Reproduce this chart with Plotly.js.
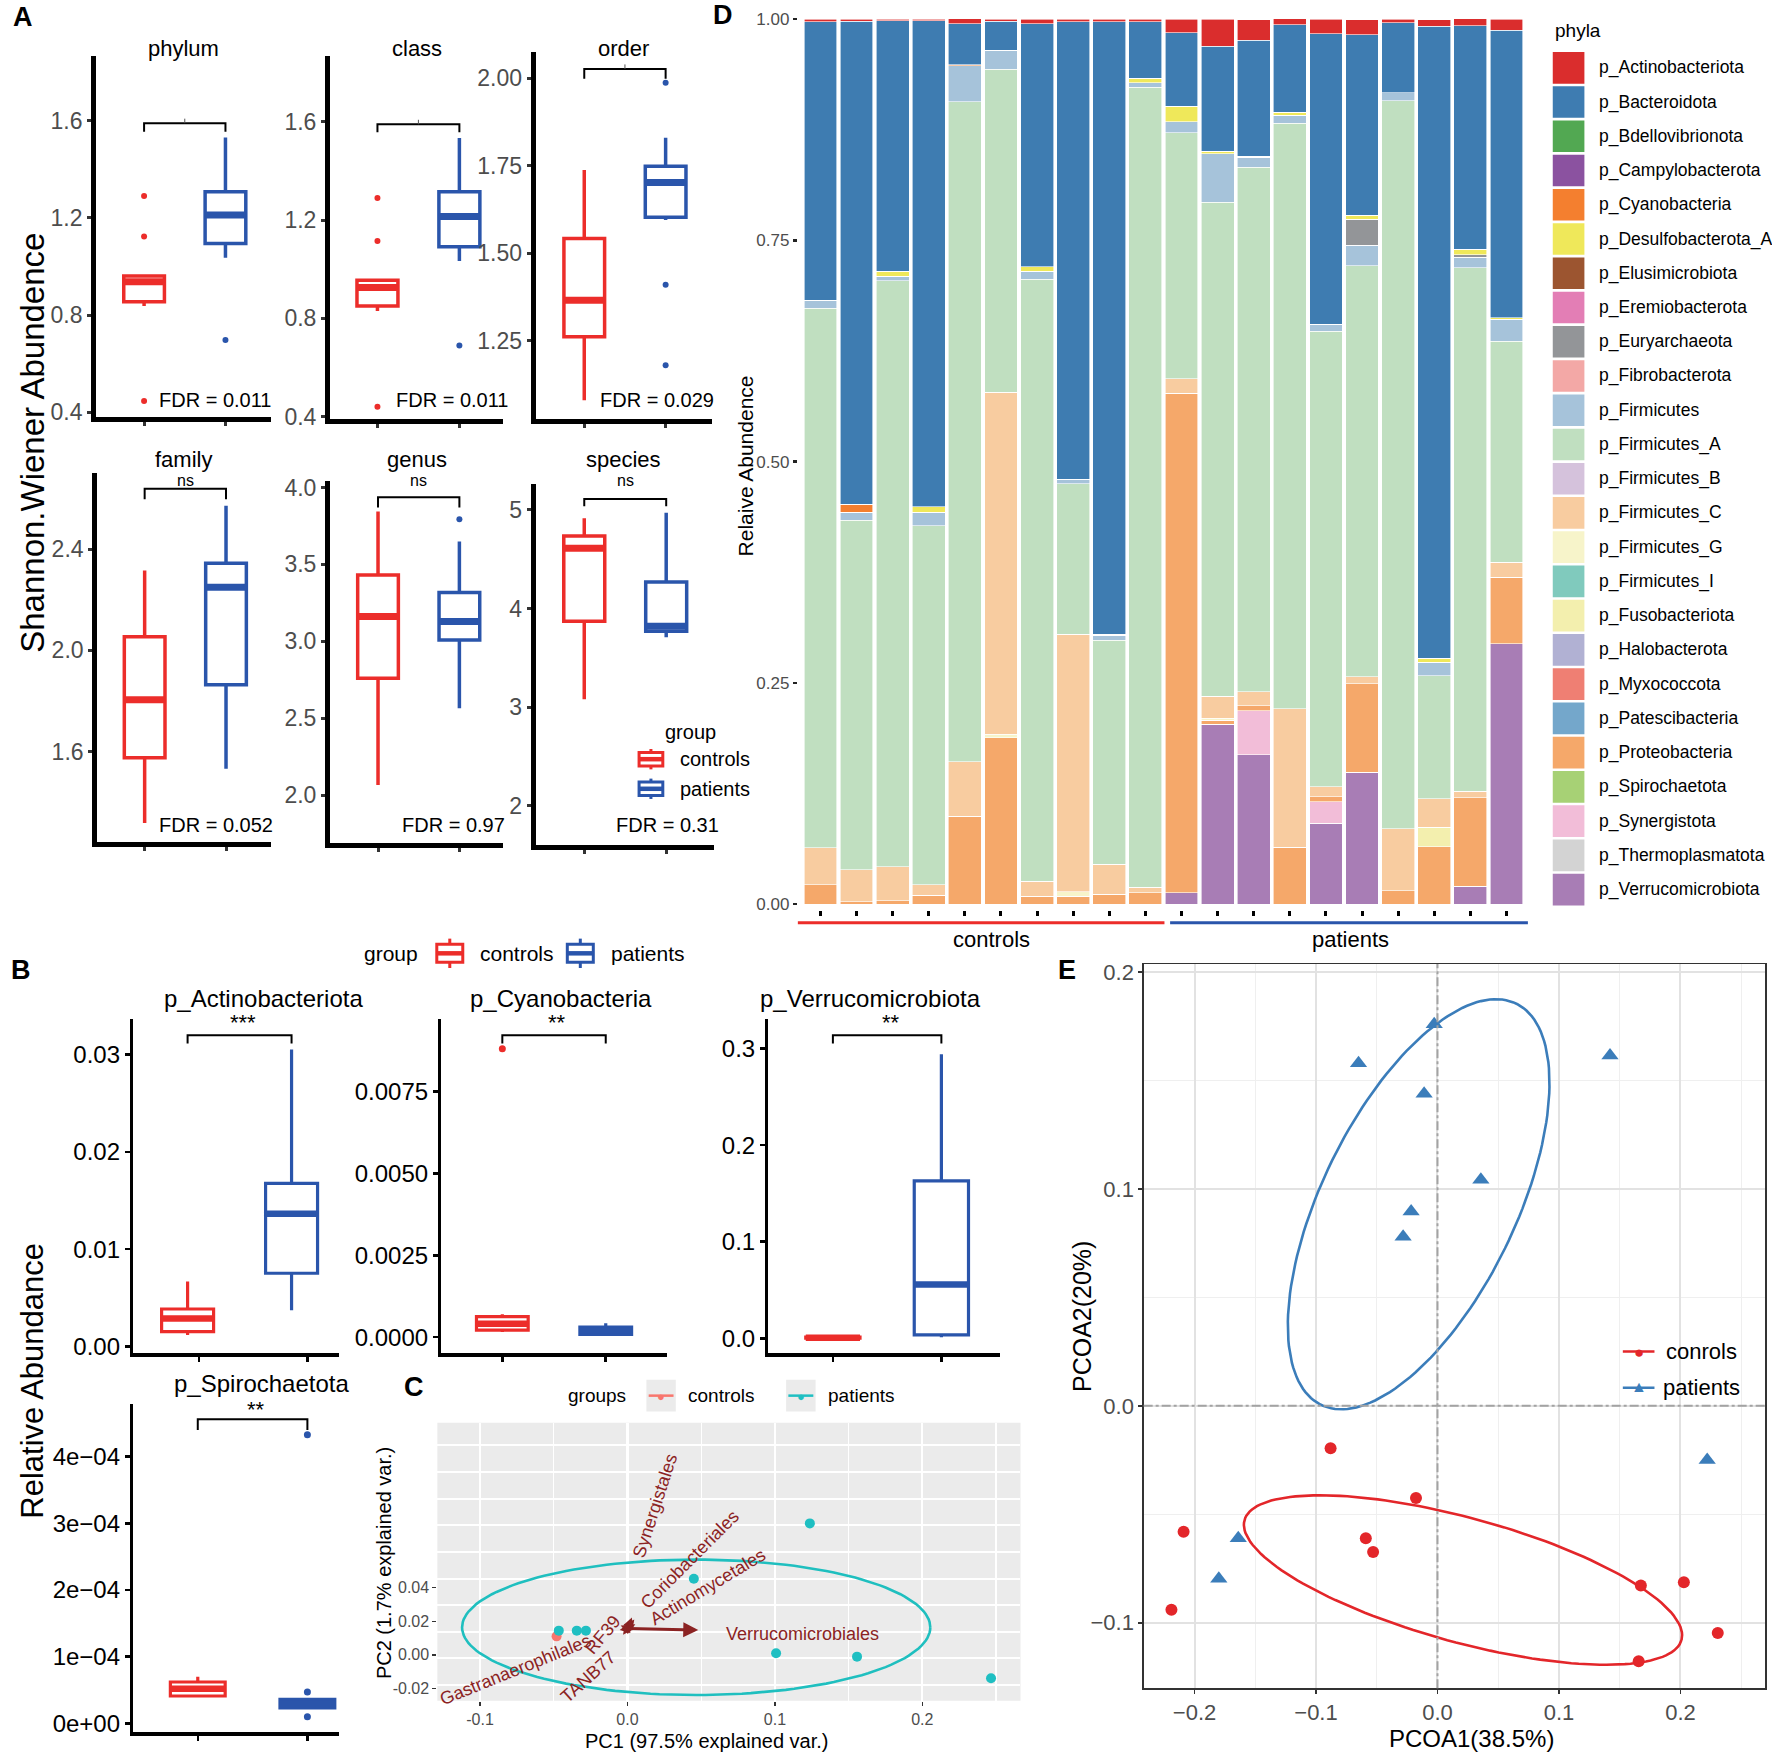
<!DOCTYPE html>
<html>
<head>
<meta charset="utf-8">
<script src="https://cdn.plot.ly/plotly-3.0.1.min.js"></script>
<style>
html,body{margin:0;padding:0;background:#ffffff;}
#fig{width:1772px;height:1755px;}
</style>
</head>
<body>
<div id="fig"></div>
<script>
/* ===================== DATA ===================== */
const groups = ['controls', 'patients'];

/* Panel A - Shannon.Wiener index; box stats = [lower whisker, Q1, median, Q3, upper whisker] */
const alphaLevels = ['phylum', 'class', 'order', 'family', 'genus', 'species'];
const alphaFDR = ['FDR = 0.011', 'FDR = 0.011', 'FDR = 0.029', 'FDR = 0.052', 'FDR = 0.97', 'FDR = 0.31'];
const alphaSig = ['', '', '', 'ns', 'ns', 'ns'];
const alphaControls = [
  [0.837, 0.855, 0.937, 0.961, 0.961],
  [0.830, 0.850, 0.925, 0.955, 0.955],
  [1.080, 1.261, 1.366, 1.542, 1.738],
  [1.317, 1.575, 1.805, 2.054, 2.316],
  [2.066, 2.760, 3.161, 3.432, 3.844],
  [3.080, 3.870, 4.610, 4.736, 4.916]
];
const alphaPatients = [
  [1.036, 1.095, 1.212, 1.308, 1.531],
  [1.033, 1.091, 1.214, 1.315, 1.534],
  [1.595, 1.603, 1.702, 1.749, 1.830],
  [1.532, 1.864, 2.250, 2.344, 2.572],
  [2.565, 3.009, 3.129, 3.317, 3.649],
  [3.710, 3.770, 3.820, 4.270, 4.970]
];
const alphaControlsOut = [[1.29, 1.123, 0.446], [1.29, 1.115, 0.44], [], [], [], []];
const alphaPatientsOut = [[0.697], [0.69], [1.987, 1.41, 1.18], [], [3.794], []];

/* Panel B - relative abundance of differential phyla */
const markerPhyla = ['p_Actinobacteriota', 'p_Cyanobacteria', 'p_Verrucomicrobiota', 'p_Spirochaetota'];
const markerStars = ['***', '**', '**', '**'];
const relControls = [
  [0.00119, 0.00153, 0.00288, 0.00386, 0.00668],
  [0.000154, 0.000216, 0.00041, 0.000628, 0.0007],
  [0.0, 0.0002, 0.0006, 0.0012, 0.002],
  [0.000039, 0.000041, 0.000052, 0.000062, 0.00007]
];
const relPatients = [
  [0.00373, 0.00753, 0.01363, 0.01675, 0.0305],
  [0.00003, 0.000082, 0.0002, 0.000309, 0.00042],
  [0.001, 0.0035, 0.0556, 0.163, 0.294],
  [0.000023, 0.000023, 0.0000295, 0.000036, 0.000036]
];
const relControlsOut = [[], [0.00881], [], []];
const relPatientsOut = [[], [], [], [0.000433, 0.000047, 0.00001]];
const relTickVals = [[0, 0.01, 0.02, 0.03], [0, 0.0025, 0.005, 0.0075], [0, 0.1, 0.2, 0.3], [0, 0.0001, 0.0002, 0.0003, 0.0004]];
const relTickText = [['0.00', '0.01', '0.02', '0.03'], ['0.0000', '0.0025', '0.0050', '0.0075'], ['0.0', '0.1', '0.2', '0.3'], ['0e+00', '1e\u221204', '2e\u221204', '3e\u221204', '4e\u221204']];

/* Panel C - PCA biplot */
const pcaControlsPC1 = [-0.0481];
const pcaControlsPC2 = [0.011];
const pcaPatientsPC1 = [0.1237, 0.045, -0.0466, -0.0344, -0.0282, 0.1008, 0.1557, 0.2466];
const pcaPatientsPC2 = [0.0784, 0.0454, 0.0144, 0.0144, 0.0144, 0.0009, -0.0011, -0.014];
const pcaOrigin = [0, 0.0157];
const loadingNames = ['Verrucomicrobiales', 'Actinomycetales', 'Coriobacteriales', 'Synergistales', 'Gastranaerophilales', 'RF39', 'TANB77'];
const loadingTipX = [0.048, 0.0053, 0.0046, 0.003, -0.0053, -0.0046, -0.003];
const loadingTipY = [0.0148, 0.0182, 0.021, 0.0222, 0.0148, 0.0175, 0.012];
const loadingLabelX = [0.119, 0.0542, 0.0427, 0.019, -0.0763, -0.0168, -0.0267];
const loadingLabelY = [0.0123, 0.0407, 0.0569, 0.0892, -0.0092, 0.0117, -0.0133];
const loadingLabelAngle = [0, -31, -45, -72, -22, -50, -42];
const pcaEllipseCenter = [0.0466, 0.0164];
const pcaEllipseAxisU = [0.1588, 0];
const pcaEllipseAxisV = [0, 0.0404];

/* Panel D - phylum composition per sample */
const samples = ['C1','C2','C3','C4','C5','C6','C7','C8','C9','C10','P1','P2','P3','P4','P5','P6','P7','P8','P9','P10'];
const phylaNames = ['p_Actinobacteriota','p_Bacteroidota','p_Bdellovibrionota','p_Campylobacterota','p_Cyanobacteria','p_Desulfobacterota_A','p_Elusimicrobiota','p_Eremiobacterota','p_Euryarchaeota','p_Fibrobacterota','p_Firmicutes','p_Firmicutes_A','p_Firmicutes_B','p_Firmicutes_C','p_Firmicutes_G','p_Firmicutes_I','p_Fusobacteriota','p_Halobacterota','p_Myxococcota','p_Patescibacteria','p_Proteobacteria','p_Spirochaetota','p_Synergistota','p_Thermoplasmatota','p_Verrucomicrobiota'];
const p_Actinobacteriota   = [0.0025,0.002,0.002,0.002,0.0056,0.002,0.005,0.003,0.003,0.003,0.0153,0.0307,0.023,0.007,0.0166,0.0166,0.004,0.0077,0.0077,0.012];
const p_Bacteroidota       = [0.315,0.546,0.283,0.549,0.0465,0.033,0.275,0.517,0.692,0.064,0.083,0.119,0.131,0.099,0.328,0.2043,0.079,0.714,0.253,0.325];
const p_Bdellovibrionota   = [0,0,0,0,0,0,0,0,0,0,0,0,0,0,0,0,0,0,0,0];
const p_Campylobacterota   = [0,0,0,0,0,0,0,0,0,0,0,0,0,0,0,0,0,0,0,0];
const p_Cyanobacteria      = [0,0.009,0,0,0.001,0,0,0,0.001,0,0,0,0.001,0,0,0,0,0,0,0];
const p_Desulfobacterota_A = [0,0,0.0055,0.006,0,0,0.005,0,0,0.005,0.0179,0.0025,0,0.003,0,0.0045,0,0.0046,0.006,0.002];
const p_Elusimicrobiota    = [0,0,0,0,0,0,0,0,0,0,0,0,0,0,0,0,0,0,0,0];
const p_Eremiobacterota    = [0,0,0,0,0,0,0,0,0,0,0,0,0,0,0,0,0,0,0,0];
const p_Euryarchaeota      = [0,0,0,0,0,0,0,0,0,0,0,0,0,0,0,0.0294,0,0,0.003,0];
const p_Fibrobacterota     = [0,0,0,0,0,0,0,0,0,0,0,0,0,0,0,0,0,0,0,0];
const p_Firmicutes         = [0.0092,0.0093,0.005,0.0153,0.0404,0.0215,0.009,0.005,0.006,0.005,0.0121,0.055,0.0115,0.009,0.0083,0.023,0.009,0.0153,0.0114,0.0246];
const p_Firmicutes_A       = [0.6094,0.395,0.6625,0.406,0.746,0.365,0.68,0.17,0.253,0.904,0.278,0.558,0.593,0.6616,0.5146,0.4645,0.823,0.139,0.5917,0.25];
const p_Firmicutes_B       = [0,0,0,0,0,0,0,0,0,0,0,0,0,0,0,0,0,0,0,0];
const p_Firmicutes_C       = [0.042,0.036,0.038,0.0115,0.062,0.3866,0.017,0.291,0.034,0.006,0.0166,0.025,0.0153,0.157,0.011,0.008,0.07,0.032,0.0077,0.0166];
const p_Firmicutes_G       = [0,0,0,0,0,0.004,0,0.005,0,0,0,0.002,0,0,0,0,0,0,0,0];
const p_Firmicutes_I       = [0,0,0,0,0,0,0,0,0,0,0,0,0,0,0,0,0,0,0,0];
const p_Fusobacteriota     = [0,0,0,0,0,0,0,0,0,0,0,0,0,0,0,0,0,0.022,0,0];
const p_Halobacterota      = [0,0,0,0,0,0,0,0,0,0,0,0,0,0,0,0,0,0,0,0];
const p_Myxococcota        = [0,0,0,0,0,0,0,0,0,0,0,0,0,0,0,0,0,0,0,0];
const p_Patescibacteria    = [0,0,0,0,0,0,0,0,0,0,0,0,0,0,0,0,0,0,0,0];
const p_Proteobacteria     = [0.0217,0.0026,0.004,0.0102,0.099,0.1877,0.009,0.009,0.011,0.013,0.5645,0.005,0.006,0.064,0.006,0.1,0.015,0.065,0.0996,0.0755];
const p_Spirochaetota      = [0,0,0,0,0,0,0,0,0,0,0,0,0,0,0,0,0,0,0,0];
const p_Synergistota       = [0,0,0,0,0,0,0,0,0,0,0,0,0.0498,0,0.024,0,0,0,0,0];
const p_Thermoplasmatota   = [0,0,0,0,0,0,0,0,0,0,0,0,0,0,0,0,0,0,0,0];
const p_Verrucomicrobiota  = [0,0,0,0,0,0,0,0,0,0,0.0128,0.203,0.1686,0,0.0915,0.149,0,0,0.0204,0.294];

/* Panel E - PCoA */
const pcoaControlsX = [-0.088, -0.209, -0.0177, -0.059, -0.053, -0.219, 0.1674, 0.2028, 0.2307, 0.1656];
const pcoaControlsY = [-0.0196, -0.058, -0.0425, -0.061, -0.0674, -0.094, -0.0828, -0.0813, -0.1047, -0.1177];
const pcoaPatientsX = [-0.0027, -0.065, -0.011, 0.0357, -0.0217, -0.0283, -0.164, 0.142, 0.222, -0.18];
const pcoaPatientsY = [0.1758, 0.1579, 0.1438, 0.1042, 0.0895, 0.0779, -0.061, 0.1615, -0.025, -0.0797];
const pcoaEllipsePatCenter = [-0.0155, 0.0929];
const pcoaEllipsePatU = [0.0809, 0.0923];
const pcoaEllipsePatV = [0.0711, -0.0203];
const pcoaEllipseCtrlCenter = [0.021, -0.0803];
const pcoaEllipseCtrlU = [0.1799, -0.02754];
const pcoaEllipseCtrlV = [-0.01297, -0.0277];

/* ===================== STYLE / LAYOUT ===================== */
const phylaColors = ['#DA2D2D','#3E7CB1','#52A852','#8B52A0','#F47F2F','#EFE85A','#9C5530','#E37EB5','#939598','#F3A8A6','#A6C3DA','#C0DFC0','#D5C2DC','#F8CCA0','#F7F4CA','#80CABD','#F3EFAE','#B1B1D3','#EF7F73','#74A7CB','#F5A86A','#A7D175','#F2BDD8','#D3D3D3','#A87DB5'];
const phylaData = [p_Actinobacteriota,p_Bacteroidota,p_Bdellovibrionota,p_Campylobacterota,p_Cyanobacteria,p_Desulfobacterota_A,p_Elusimicrobiota,p_Eremiobacterota,p_Euryarchaeota,p_Fibrobacterota,p_Firmicutes,p_Firmicutes_A,p_Firmicutes_B,p_Firmicutes_C,p_Firmicutes_G,p_Firmicutes_I,p_Fusobacteriota,p_Halobacterota,p_Myxococcota,p_Patescibacteria,p_Proteobacteria,p_Spirochaetota,p_Synergistota,p_Thermoplasmatota,p_Verrucomicrobiota];

const W = 1568, H = 1553;               // reference frame, scaled to 1772 x 1755
const PX = x => x / W;
const PY = y => 1 - y / H;
const lin = (p, c) => c[1] + (p - c[0]) * (c[3] - c[1]) / (c[2] - c[0]);
const FONT = 'Liberation Sans, Arial, Helvetica, sans-serif';
const RED = '#EC2D2A', BLUE = '#2A55AB';
const sfx = n => (n === 1 ? '' : String(n));

const traces = [];
const layout = {
  width: 1772, height: 1755,
  margin: {l: 0, r: 0, t: 0, b: 0},
  paper_bgcolor: 'white', plot_bgcolor: 'rgba(0,0,0,0)',
  showlegend: false, barmode: 'stack', bargap: 0.09,
  font: {family: FONT, color: 'black'},
  shapes: [], annotations: []
};
const shapes = layout.shapes, ann = layout.annotations;

function text(x, y, s, size, opts) {
  const o = Object.assign({xanchor: 'center', yanchor: 'middle', color: 'black', bold: false, angle: 0}, opts || {});
  ann.push({xref: 'paper', yref: 'paper', x: PX(x), y: PY(y), text: o.bold ? '<b>' + s + '</b>' : s,
    showarrow: false, xanchor: o.xanchor, yanchor: o.yanchor, textangle: o.angle,
    font: {family: FONT, size: size, color: o.color}});
}
function pline(x0, y0, x1, y1, color, width) {
  shapes.push({type: 'line', xref: 'paper', yref: 'paper', x0: PX(x0), y0: PY(y0), x1: PX(x1), y1: PY(y1), line: {color: color, width: width}});
}
function boxGlyph(cx, cy, color, w, h, wh, lw) {
  shapes.push({type: 'rect', xref: 'paper', yref: 'paper', x0: PX(cx - w / 2), x1: PX(cx + w / 2), y0: PY(cy + h / 2), y1: PY(cy - h / 2), line: {color: color, width: lw}, fillcolor: 'white'});
  pline(cx - w / 2, cy, cx + w / 2, cy, color, lw * 1.5);
  pline(cx, cy - h / 2, cx, cy - h / 2 - wh, color, lw);
  pline(cx, cy + h / 2, cx, cy + h / 2 + wh, color, lw);
}
function addBox(n, pos, st, color, w, lw, medW) {
  const xa = 'x' + sfx(n), ya = 'y' + sfx(n);
  traces.push({type: 'box', orientation: 'v', x: [pos], lowerfence: [st[0]], q1: [st[1]], median: [st[2]], q3: [st[3]], upperfence: [st[4]],
    width: w, whiskerwidth: 0, fillcolor: 'white', line: {color: color, width: lw}, boxpoints: false, xaxis: xa, yaxis: ya, hoverinfo: 'skip'});
  traces.push({type: 'scatter', mode: 'lines', x: [pos - w / 2, pos + w / 2], y: [st[2], st[2]], line: {color: color, width: medW}, xaxis: xa, yaxis: ya, hoverinfo: 'skip'});
}
function addOut(n, pos, vals, color, size) {
  if (!vals.length) return;
  traces.push({type: 'scatter', mode: 'markers', x: vals.map(() => pos), y: vals, marker: {color: color, size: size}, xaxis: 'x' + sfx(n), yaxis: 'y' + sfx(n), hoverinfo: 'skip'});
}
function bracket(n, x0, x1, yb, yd, lw) {
  shapes.push({type: 'path', xref: 'x' + sfx(n), yref: 'y' + sfx(n), path: 'M ' + x0 + ',' + yd + ' L ' + x0 + ',' + yb + ' L ' + x1 + ',' + yb + ' L ' + x1 + ',' + yd, line: {color: 'black', width: lw}});
}
function ellipse(c, u, v) {
  const xs = [], ys = [];
  for (let k = 0; k <= 160; k++) {
    const t = 2 * Math.PI * k / 160;
    xs.push(c[0] + u[0] * Math.cos(t) + v[0] * Math.sin(t));
    ys.push(c[1] + u[1] * Math.cos(t) + v[1] * Math.sin(t));
  }
  return {x: xs, y: ys};
}

/* ---------- Panel A ---------- */
const aFrames = [
  {l: 85,  r: 240, t: 49.6,  b: 369,   c0: 127.5, c1: 199.5, cal: [106.8, 1.6, 278.8, 0.8], tv: [0.4, 0.8, 1.2, 1.6], tt: ['0.4', '0.8', '1.2', '1.6'], tx: 162, ty: 42.8, brY: 109, brD: 116.5, fx: 190, fy: 354},
  {l: 292, r: 445, t: 49.6,  b: 371,   c0: 334,   c1: 406.5, cal: [107.7, 1.6, 281.7, 0.8], tv: [0.4, 0.8, 1.2, 1.6], tt: ['0.4', '0.8', '1.2', '1.6'], tx: 369, ty: 42.8, brY: 110, brD: 117, fx: 400, fy: 354},
  {l: 474, r: 630, t: 45.7,  b: 371,   c0: 517,   c1: 589,   cal: [69.3, 2.0, 301.5, 1.25], tv: [1.25, 1.5, 1.75, 2.0], tt: ['1.25', '1.50', '1.75', '2.00'], tx: 552, ty: 42.8, brY: 61, brD: 69.7, fx: 581, fy: 354},
  {l: 86,  r: 240, t: 418.7, b: 745,   c0: 128,   c1: 200,   cal: [486, 2.4, 665, 1.6], tv: [1.6, 2.0, 2.4], tt: ['1.6', '2.0', '2.4'], tx: 162, ty: 407, brY: 432.6, brD: 441.8, fx: 191, fy: 730},
  {l: 292, r: 445, t: 426,   b: 745.7, c0: 334.5, c1: 406.5, cal: [431.4, 4.0, 635.6, 2.5], tv: [2.0, 2.5, 3.0, 3.5, 4.0], tt: ['2.0', '2.5', '3.0', '3.5', '4.0'], tx: 369, ty: 407, brY: 440, brD: 449, fx: 401, fy: 730},
  {l: 474, r: 632, t: 428,   b: 748,   c0: 517,   c1: 589.5, cal: [451.2, 5, 625.8, 3], tv: [2, 3, 4, 5], tt: ['2', '3', '4', '5'], tx: 552, ty: 407, brY: 441.5, brD: 448, fx: 591, fy: 730}
];
aFrames.forEach((f, i) => {
  const n = i + 1;
  const sc = 1 / (f.c1 - f.c0);
  layout['xaxis' + sfx(n)] = {domain: [PX(f.l), PX(f.r)], range: [(f.l - f.c0) * sc, (f.r - f.c0) * sc], anchor: 'y' + sfx(n),
    showline: true, linecolor: 'black', linewidth: 5, ticks: 'outside', tickvals: [0, 1], ticklen: 4, tickwidth: 3, tickcolor: '#333',
    showticklabels: false, showgrid: false, zeroline: false};
  layout['yaxis' + sfx(n)] = {domain: [PY(f.b), PY(f.t)], range: [lin(f.b, f.cal), lin(f.t, f.cal)], anchor: 'x' + sfx(n),
    showline: true, linecolor: 'black', linewidth: 5, ticks: 'outside', tickvals: f.tv, ticktext: f.tt, ticklen: 4, tickwidth: 3, tickcolor: '#333',
    tickfont: {family: FONT, size: 23, color: '#4d4d4d'}, showgrid: false, zeroline: false};
  addBox(n, 0, alphaControls[i], RED, 0.5, 3.5, 7);
  addBox(n, 1, alphaPatients[i], BLUE, 0.5, 3.5, 7);
  addOut(n, 0, alphaControlsOut[i], RED, 6);
  addOut(n, 1, alphaPatientsOut[i], BLUE, 6);
  bracket(n, 0, 1, lin(f.brY, f.cal), lin(f.brD, f.cal), 2);
  if (!alphaSig[i]) {
    shapes.push({type: 'line', xref: 'x' + sfx(n), yref: 'y' + sfx(n), x0: 0.5, x1: 0.5, y0: lin(f.brY, f.cal), y1: lin(f.brY - 4, f.cal), line: {color: '#555', width: 1}});
  } else {
    text((f.c0 + f.c1) / 2, 425.5, alphaSig[i], 16);
  }
  text(f.tx, f.ty, alphaLevels[i], 22);
  text(f.fx, f.fy, alphaFDR[i], 20);
});
text(29, 392, 'Shannon.Wiener Abundence', 33, {angle: -90});
text(610.6, 647.8, 'group', 20);
boxGlyph(576, 671.8, RED, 21, 12, 3, 3);
boxGlyph(576, 698, BLUE, 21, 12, 3, 3);
text(600, 671.8, 'controls', 20, {xanchor: 'left'});
text(600, 698, 'patients', 20, {xanchor: 'left'});

/* ---------- Panel B ---------- */
const bFrames = [
  {l: 118,   r: 300, t: 902,  b: 1197.6, c0: 166,   c1: 258, cal: [933, 0.03, 1019.2, 0.02], xt: [0.109, 1.152], tx: 233,   ty: 884,  sy: 905,  brY: 916,  brD: 923.5},
  {l: 390.6, r: 590, t: 902,  b: 1197.6, c0: 444.5, c1: 536, cal: [966, 0.0075, 1038.4, 0.005], xt: [0, 1], tx: 496.4, ty: 884,  sy: 905,  brY: 916,  brD: 923.5},
  {l: 680,   r: 885, t: 902,  b: 1197.6, c0: 737,   c1: 833, cal: [927.8, 0.3, 1184.3, 0], xt: [0, 1], tx: 770,   ty: 884,  sy: 905,  brY: 916,  brD: 923.5},
  {l: 118,   r: 300, t: 1242, b: 1533,   c0: 175,   c1: 272, cal: [1289, 0.0004, 1348, 0.0003], xt: [0, 1], tx: 231.6, ty: 1224, sy: 1247, brY: 1256, brD: 1265.5}
];
bFrames.forEach((f, i) => {
  const n = i + 7;
  const sc = 1 / (f.c1 - f.c0);
  layout['xaxis' + sfx(n)] = {domain: [PX(f.l), PX(f.r)], range: [(f.l - f.c0) * sc, (f.r - f.c0) * sc], anchor: 'y' + sfx(n),
    showline: true, linecolor: 'black', linewidth: 3.5, ticks: 'outside', tickvals: f.xt, ticklen: 5, tickwidth: 2.5, tickcolor: 'black',
    showticklabels: false, showgrid: false, zeroline: false};
  layout['yaxis' + sfx(n)] = {domain: [PY(f.b), PY(f.t)], range: [lin(f.b, f.cal), lin(f.t, f.cal)], anchor: 'x' + sfx(n),
    showline: true, linecolor: 'black', linewidth: 3.5, ticks: 'outside', tickvals: relTickVals[i], ticktext: relTickText[i], ticklen: 5, tickwidth: 2.5, tickcolor: 'black',
    tickfont: {family: FONT, size: 24, color: 'black'}, showgrid: false, zeroline: false};
  addBox(n, 0, relControls[i], RED, 0.5, 3.2, 6.5);
  addBox(n, 1, relPatients[i], BLUE, 0.5, 3.2, 6.5);
  addOut(n, 0, relControlsOut[i], RED, 7);
  addOut(n, 1, relPatientsOut[i], BLUE, 7);
  bracket(n, 0, 1, lin(f.brY, f.cal), lin(f.brD, f.cal), 2);
  text(f.tx, f.ty, markerPhyla[i], 24);
  text((f.c0 + f.c1) / 2 + 3, f.sy, markerStars[i], 22);
});
text(29, 1222, 'Relative Abundance', 31, {angle: -90});
text(346, 843.6, 'group', 21);
boxGlyph(398, 843.6, RED, 23, 16, 5, 3);
text(423, 843.6, 'controls', 21, {xanchor: 'left'});
boxGlyph(513.5, 843.6, BLUE, 23, 16, 5, 3);
text(539, 843.6, 'patients', 21, {xanchor: 'left'});

/* ---------- Panel C ---------- */
const cF = {l: 387, r: 903, t: 1259, b: 1505, xcal: [424.8, -0.1, 685.7, 0.1], ycal: [1405, 0.04, 1494, -0.02]};
layout.xaxis11 = {domain: [PX(cF.l), PX(cF.r)], range: [lin(cF.l, cF.xcal), lin(cF.r, cF.xcal)], anchor: 'y11',
  showline: false, zeroline: false, ticks: 'outside', ticklen: 4, tickwidth: 1.5, tickcolor: '#333',
  tickvals: [-0.1, 0, 0.1, 0.2], ticktext: ['-0.1', '0.0', '0.1', '0.2'], tickfont: {family: FONT, size: 16, color: '#4d4d4d'},
  showgrid: true, gridcolor: 'white', gridwidth: 2.2,
  minor: {tickmode: 'linear', tick0: 0, dtick: 0.05, showgrid: true, gridcolor: 'white', gridwidth: 1.3}};
layout.yaxis11 = {domain: [PY(cF.b), PY(cF.t)], range: [lin(cF.b, cF.ycal), lin(cF.t, cF.ycal)], anchor: 'x11',
  showline: false, zeroline: false, ticks: 'outside', ticklen: 4, tickwidth: 1.5, tickcolor: '#333',
  tickvals: [-0.02, 0, 0.02, 0.04], ticktext: ['-0.02', '0.00', '0.02', '0.04'], tickfont: {family: FONT, size: 16, color: '#4d4d4d'},
  showgrid: false,
  minor: {tickmode: 'linear', tick0: 0.0137, dtick: 0.0159, showgrid: true, gridcolor: 'white', gridwidth: 2}};
shapes.push({type: 'rect', xref: 'x11 domain', yref: 'y11 domain', x0: 0, x1: 1, y0: 0, y1: 1, fillcolor: '#EBEBEB', line: {width: 0}, layer: 'below'});
const cEll = ellipse(pcaEllipseCenter, pcaEllipseAxisU, pcaEllipseAxisV);
traces.push({type: 'scatter', mode: 'lines', x: cEll.x, y: cEll.y, line: {color: '#1FBFBF', width: 2.6}, xaxis: 'x11', yaxis: 'y11', hoverinfo: 'skip'});
traces.push({type: 'scatter', mode: 'markers', x: pcaControlsPC1, y: pcaControlsPC2, marker: {color: '#F8766D', size: 10}, xaxis: 'x11', yaxis: 'y11', hoverinfo: 'skip'});
traces.push({type: 'scatter', mode: 'markers', x: pcaPatientsPC1, y: pcaPatientsPC2, marker: {color: '#1FBFC2', size: 10}, xaxis: 'x11', yaxis: 'y11', hoverinfo: 'skip'});
loadingNames.forEach((nm, i) => {
  ann.push({xref: 'x11', yref: 'y11', axref: 'x11', ayref: 'y11', x: loadingTipX[i], y: loadingTipY[i], ax: pcaOrigin[0], ay: pcaOrigin[1],
    showarrow: true, arrowhead: 2, arrowsize: 1, arrowwidth: i === 0 ? 3 : 2, arrowcolor: '#8B2323', text: ''});
  ann.push({xref: 'x11', yref: 'y11', x: loadingLabelX[i], y: loadingLabelY[i], text: nm, showarrow: false, textangle: loadingLabelAngle[i],
    xanchor: 'center', yanchor: 'middle', font: {family: FONT, size: 18, color: '#8B2323'}});
});
text(528.5, 1235, 'groups', 19);
shapes.push({type: 'rect', xref: 'paper', yref: 'paper', x0: PX(572), x1: PX(598), y0: PY(1249), y1: PY(1221), fillcolor: '#EBEBEB', line: {width: 0}});
shapes.push({type: 'rect', xref: 'paper', yref: 'paper', x0: PX(695.6), x1: PX(721.7), y0: PY(1249), y1: PY(1221), fillcolor: '#EBEBEB', line: {width: 0}});
pline(574, 1235, 596, 1235, '#F8766D', 2.5);
pline(697.6, 1235, 719.7, 1235, '#1FBFC2', 2.5);
text(585, 1235.5, '\u25CF', 13, {color: '#F8766D'});
text(708.6, 1235.5, '\u25CF', 13, {color: '#1FBFC2'});
text(607, 1235, 'controls', 19, {xanchor: 'left'});
text(730.5, 1235, 'patients', 19, {xanchor: 'left'});
text(625, 1541, 'PC1 (97.5% explained var.)', 20);
text(340, 1383, 'PC2 (1.7% explained var.)', 20, {angle: -90});

/* ---------- Panel D ---------- */
const dF = {l: 706, r: 1353, t: 14, b: 805, ycal: [17, 1, 800, 0], c0: 726, dx: 31.95};
layout.xaxis12 = {domain: [PX(dF.l), PX(dF.r)], type: 'category', categoryorder: 'array', categoryarray: samples,
  range: [(dF.l - dF.c0) / dF.dx, (dF.r - dF.c0) / dF.dx], anchor: 'y12', showline: false, zeroline: false, showgrid: false,
  ticks: 'outside', ticklen: 5, tickwidth: 3, tickcolor: 'black', showticklabels: false};
layout.yaxis12 = {domain: [PY(dF.b), PY(dF.t)], range: [lin(dF.b, dF.ycal), lin(dF.t, dF.ycal)], anchor: 'x12',
  showline: false, zeroline: false, showgrid: false, ticks: 'outside', ticklen: 4, tickwidth: 2.5, tickcolor: '#222',
  tickvals: [0, 0.25, 0.5, 0.75, 1], ticktext: ['0.00', '0.25', '0.50', '0.75', '1.00'], tickfont: {family: FONT, size: 17, color: '#4d4d4d'}};
for (let k = phylaNames.length - 1; k >= 0; k--) {
  traces.push({type: 'bar', name: phylaNames[k], x: samples, y: phylaData[k], marker: {color: phylaColors[k], line: {color: 'white', width: 0.6}},
    xaxis: 'x12', yaxis: 'y12', hoverinfo: 'skip'});
}
text(660, 412, 'Relaive Abundence', 21, {angle: -90});
pline(706, 816.5, 1030.4, 816.5, RED, 3);
pline(1035.4, 816.5, 1352, 816.5, BLUE, 3);
text(877.6, 831.7, 'controls', 22);
text(1195, 831.7, 'patients', 22);
text(1396, 27.4, 'phyla', 19);
phylaNames.forEach((nm, i) => {
  const cy = 60 + 30.3 * i;
  shapes.push({type: 'rect', xref: 'paper', yref: 'paper', x0: PX(1374), x1: PX(1402), y0: PY(cy + 14), y1: PY(cy - 14), fillcolor: phylaColors[i], line: {width: 0}});
  text(1413.3, cy, nm, 17.5, {xanchor: 'left'});
});

/* ---------- Panel E ---------- */
const eF = {l: 1012, r: 1562, t: 853, b: 1494, xcal: [1057, -0.2, 1487, 0.2], ycal: [860, 0.2, 1436, -0.1]};
layout.xaxis13 = {domain: [PX(eF.l), PX(eF.r)], range: [lin(eF.l, eF.xcal), lin(eF.r, eF.xcal)], anchor: 'y13',
  showline: true, mirror: true, linecolor: '#333', linewidth: 1.3, zeroline: false,
  ticks: 'outside', ticklen: 4, tickwidth: 1.5, tickcolor: '#333',
  tickvals: [-0.2, -0.1, 0, 0.1, 0.2], ticktext: ['\u22120.2', '\u22120.1', '0.0', '0.1', '0.2'], tickfont: {family: FONT, size: 22, color: '#4d4d4d'},
  showgrid: true, gridcolor: '#E2E2E2', gridwidth: 2,
  minor: {tickmode: 'linear', tick0: 0, dtick: 0.05, showgrid: true, gridcolor: '#EFEFEF', gridwidth: 1.1}};
layout.yaxis13 = {domain: [PY(eF.b), PY(eF.t)], range: [lin(eF.b, eF.ycal), lin(eF.t, eF.ycal)], anchor: 'x13',
  showline: true, mirror: true, linecolor: '#333', linewidth: 1.3, zeroline: false,
  ticks: 'outside', ticklen: 4, tickwidth: 1.5, tickcolor: '#333',
  tickvals: [-0.1, 0, 0.1, 0.2], ticktext: ['\u22120.1', '0.0', '0.1', '0.2'], tickfont: {family: FONT, size: 22, color: '#4d4d4d'},
  showgrid: true, gridcolor: '#E2E2E2', gridwidth: 2,
  minor: {tickmode: 'linear', tick0: 0, dtick: 0.05, showgrid: true, gridcolor: '#EFEFEF', gridwidth: 1.1}};
shapes.push({type: 'line', xref: 'x13', yref: 'y13 domain', x0: 0, x1: 0, y0: 0, y1: 1, line: {color: '#A3A3A3', width: 2, dash: 'dashdot'}});
shapes.push({type: 'line', xref: 'x13 domain', yref: 'y13', x0: 0, x1: 1, y0: 0, y1: 0, line: {color: '#A3A3A3', width: 2, dash: 'dashdot'}});
const ePat = ellipse(pcoaEllipsePatCenter, pcoaEllipsePatU, pcoaEllipsePatV);
const eCtrl = ellipse(pcoaEllipseCtrlCenter, pcoaEllipseCtrlU, pcoaEllipseCtrlV);
traces.push({type: 'scatter', mode: 'lines', x: ePat.x, y: ePat.y, line: {color: '#3B7DBA', width: 2.6}, xaxis: 'x13', yaxis: 'y13', hoverinfo: 'skip'});
traces.push({type: 'scatter', mode: 'lines', x: eCtrl.x, y: eCtrl.y, line: {color: '#E3262A', width: 2.6}, xaxis: 'x13', yaxis: 'y13', hoverinfo: 'skip'});
traces.push({type: 'scatter', mode: 'markers', x: pcoaControlsX, y: pcoaControlsY, marker: {color: '#E3262A', size: 12, symbol: 'circle'}, xaxis: 'x13', yaxis: 'y13', hoverinfo: 'skip'});
traces.push({type: 'scatter', mode: 'markers', x: pcoaPatientsX, y: pcoaPatientsY, marker: {color: '#3B7DBA', size: 15, symbol: 'triangle-up'}, xaxis: 'x13', yaxis: 'y13', hoverinfo: 'skip'});
text(1302, 1538, 'PCOA1(38.5%)', 24);
text(957, 1165, 'PCOA2(20%)', 25, {angle: -90});
pline(1436, 1196, 1464, 1196, '#E3262A', 2.6);
pline(1436, 1228, 1464, 1228, '#3B7DBA', 2.6);
text(1450, 1196.5, '\u25CF', 17, {color: '#E3262A'});
text(1450, 1227, '\u25B2', 16, {color: '#3B7DBA'});
text(1472, 1196, 'conrols', 22, {xanchor: 'left'});
text(1470, 1228, 'patients', 22, {xanchor: 'left'});

/* ---------- panel letters ---------- */
text(10, 15, 'A', 27, {bold: true, xanchor: 'left'});
text(8, 858, 'B', 27, {bold: true, xanchor: 'left'});
text(366.5, 1227, 'C', 27, {bold: true});
text(640, 13, 'D', 27, {bold: true});
text(944, 858, 'E', 27, {bold: true});

Plotly.newPlot('fig', traces, layout, {staticPlot: true, displayModeBar: false});
</script>
</body>
</html>
